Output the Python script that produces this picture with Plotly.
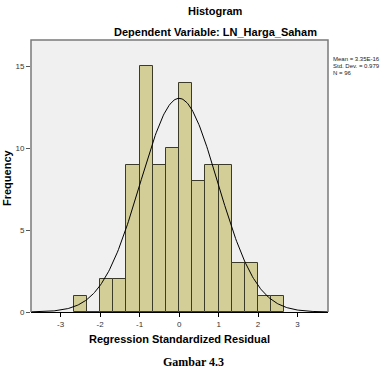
import numpy as np
import plotly.graph_objects as go

# ---- data ----
bin_width = 1/3
bin_lower_edges = [-8/3, -7/3, -2, -5/3, -4/3, -1, -2/3, -1/3, 0, 1/3, 2/3, 1, 4/3, 5/3, 2, 7/3]
frequencies = [1, 0, 2, 2, 9, 15, 9, 10, 14, 8, 9, 9, 3, 3, 1, 1]
resid_mean = 3.35e-16
resid_sd = 0.979
n_obs = 96
x_ticks = [-3, -2, -1, 0, 1, 2, 3]
y_ticks = [0, 5, 10, 15]

centers = [e + bin_width / 2 for e in bin_lower_edges]

xr = [-3.75, 3.77]
xs = np.linspace(xr[0], xr[1], 300)
curve = n_obs * bin_width / (resid_sd * np.sqrt(2 * np.pi)) * np.exp(-0.5 * ((xs - resid_mean) / resid_sd) ** 2)

fig = go.Figure()
fig.add_trace(go.Bar(
    x=centers, y=frequencies, width=bin_width,
    marker=dict(color="#d3ce98", line=dict(color="#3c3b28", width=1)),
    showlegend=False, hoverinfo="x+y",
))
fig.add_trace(go.Scatter(
    x=xs, y=curve, mode="lines", line=dict(color="#000000", width=1),
    showlegend=False, hoverinfo="skip",
))

L, R, T, B = 31, 53, 40, 59
W, H = 381, 371
fig.update_layout(
    width=W, height=H,
    margin=dict(l=L, r=R, t=T, b=B, pad=0),
    paper_bgcolor="white", plot_bgcolor="#f0f0f0",
    font=dict(family="Liberation Sans, Arial, sans-serif", color="#222222"),
    bargap=0,
    xaxis=dict(range=xr, tickvals=x_ticks, ticktext=[str(v) for v in x_ticks],
               ticks="outside", ticklen=4, tickcolor="#000000", tickwidth=1,
               showgrid=False, zeroline=False, showline=True, linecolor="#000000", linewidth=1,
               tickfont=dict(size=8, color="#333333")),
    yaxis=dict(range=[0, 16.6], tickvals=y_ticks, ticktext=[str(v) for v in y_ticks],
               ticks="outside", ticklen=4, tickcolor="#555555", tickwidth=1,
               showgrid=False, zeroline=False, showline=False,
               tickfont=dict(size=8, color="#333333")),
    shapes=[dict(type="path", xref="paper", yref="paper",
                 path="M 0 0 L 0 1 L 1 1 L 1 0",
                 line=dict(color="#7a7a7a", width=1.5))],
)

def px_to_paper(x, y):
    return (x - L) / (W - L - R), (H - B - y) / (H - T - B)

def ann(text, x, y, size, bold=True, family=None, xanchor="center", angle=0, color="#000000"):
    px, py = px_to_paper(x, y)
    fig.add_annotation(text=("<b>%s</b>" % text) if bold else text,
                       x=px, y=py, xref="paper", yref="paper",
                       xanchor=xanchor, yanchor="middle", showarrow=False,
                       textangle=angle,
                       font=dict(size=size, color=color,
                                 family=family or "Liberation Sans, Arial, sans-serif"))

ann("Histogram", 215, 11, 11)
ann("Dependent Variable: LN_Harga_Saham", 215, 32, 11)
ann("Regression Standardized Residual", 179, 339, 11)
ann("Frequency", 7, 177, 11, angle=-90)
ann("Gambar 4.3", 193, 362, 12, family="Liberation Serif, Times New Roman, serif")
ann("Mean = 3.35E-16", 331, 59, 6, bold=False, xanchor="left", color="#222222")
ann("Std. Dev. = 0.979", 331, 66, 6, bold=False, xanchor="left", color="#222222")
ann("N = %d" % n_obs, 331, 73, 6, bold=False, xanchor="left", color="#222222")

fig.write_html("out.html")
